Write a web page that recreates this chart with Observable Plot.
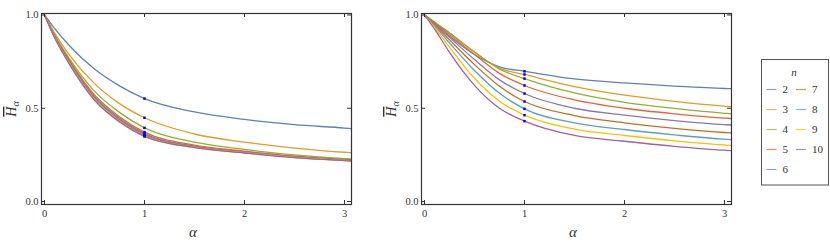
<!DOCTYPE html>
<html><head><meta charset="utf-8">
<script src="https://cdn.jsdelivr.net/npm/d3@7"></script>
<script src="https://cdn.jsdelivr.net/npm/@observablehq/plot@0.6"></script>
<style>
body{margin:0;background:#fff;}
#wrap{position:relative;width:830px;height:245px;overflow:hidden;background:#fff;}
#wrap > svg{position:absolute;top:0;}
</style></head><body><div id="wrap"></div>
<script>
// sample points on the alpha axis
const alphas = [0, 0.1, 0.25, 0.5, 0.75, 1, 1.5, 2, 2.5, 3, 3.07];
const nValues = [2, 3, 4, 5, 6, 7, 8, 9, 10];
const colors = ["#5E81B5", "#E19C24", "#8FB032", "#EB6235", "#8778B3", "#C56E1A", "#5D9EC7", "#FFBF00", "#A5609D"];
// left panel: one row per n (2..10), values at alphas
const leftCurves = [
  [1, 0.928, 0.835, 0.710, 0.620, 0.552, 0.480, 0.440, 0.412, 0.394, 0.391],
  [1, 0.905, 0.785, 0.632, 0.525, 0.449, 0.362, 0.318, 0.286, 0.264, 0.262],
  [1, 0.895, 0.765, 0.592, 0.478, 0.395, 0.318, 0.280, 0.250, 0.230, 0.228],
  [1, 0.890, 0.755, 0.572, 0.455, 0.372, 0.302, 0.270, 0.243, 0.225, 0.223],
  [1, 0.887, 0.750, 0.563, 0.446, 0.364, 0.297, 0.266, 0.240, 0.223, 0.221],
  [1, 0.885, 0.745, 0.556, 0.439, 0.358, 0.294, 0.264, 0.238, 0.222, 0.220],
  [1, 0.883, 0.741, 0.551, 0.434, 0.354, 0.292, 0.262, 0.237, 0.221, 0.219],
  [1, 0.881, 0.738, 0.547, 0.430, 0.351, 0.290, 0.261, 0.236, 0.220, 0.218],
  [1, 0.879, 0.735, 0.543, 0.427, 0.349, 0.289, 0.260, 0.235, 0.219, 0.217]
];
// right panel
const rightCurves = [
  [1, 0.953, 0.886, 0.788, 0.722, 0.698, 0.657, 0.636, 0.619, 0.606, 0.605],
  [1, 0.960, 0.903, 0.800, 0.715, 0.681, 0.616, 0.570, 0.537, 0.511, 0.508],
  [1, 0.962, 0.905, 0.802, 0.710, 0.659, 0.582, 0.532, 0.499, 0.473, 0.470],
  [1, 0.958, 0.895, 0.788, 0.687, 0.622, 0.545, 0.500, 0.470, 0.447, 0.445],
  [1, 0.953, 0.880, 0.761, 0.652, 0.579, 0.500, 0.463, 0.434, 0.412, 0.410],
  [1, 0.948, 0.867, 0.734, 0.618, 0.536, 0.461, 0.422, 0.392, 0.370, 0.368],
  [1, 0.942, 0.850, 0.702, 0.580, 0.497, 0.422, 0.386, 0.357, 0.334, 0.332],
  [1, 0.935, 0.828, 0.661, 0.538, 0.463, 0.388, 0.354, 0.325, 0.303, 0.301],
  [1, 0.925, 0.800, 0.623, 0.500, 0.431, 0.354, 0.323, 0.296, 0.275, 0.273]
];
const xTicks = [0, 1, 2, 3];
const xTickLabels = ["0", "1", "2", "3"];
const yTicks = [0, 0.5, 1];
const yTickLabels = ["0.0", "0.5", "1.0"];
const markedAlpha = 1;

const W = 380, H = 245, mL = 41, mR = 29, mT = 13, mB = 41;
const frameW = W - mL - mR, frameH = H - mT - mB;
const serif = "'Liberation Serif', 'DejaVu Serif', serif";
const ink = "#333";

function panel(curves) {
  const rows = [];
  curves.forEach((vals, i) => vals.forEach((h, j) => rows.push({n: nValues[i], alpha: alphas[j], h})));
  const svg = Plot.plot({
    width: W, height: H, marginLeft: mL, marginRight: mR, marginTop: mT, marginBottom: mB,
    style: {fontFamily: serif, fontSize: "10.5px", color: ink, background: "transparent"},
    x: {domain: [-0.03, 3.07]},
    y: {domain: [-0.016, 1.008]},
    color: {type: "ordinal", domain: nValues, range: colors},
    marks: [
      Plot.line(rows, {x: "alpha", y: "h", z: "n", stroke: "n", strokeWidth: 1.3, curve: "monotone-x", clip: true}),
      Plot.dot(rows.filter(d => d.alpha === markedAlpha), {x: "alpha", y: "h", r: 1.4, symbol: "square", fill: "#0000ff", stroke: "none"}),
      Plot.frame({stroke: ink, strokeWidth: 1.2}),
      Plot.ruleX(xTicks, {x: d => d, insetTop: frameH - 4, stroke: ink}),
      Plot.ruleX(xTicks, {x: d => d, insetBottom: frameH - 4, stroke: ink}),
      Plot.ruleY(yTicks, {y: d => d, insetRight: frameW - 4, stroke: ink}),
      Plot.ruleY(yTicks, {y: d => d, insetLeft: frameW - 4, stroke: ink}),
      Plot.axisX(xTicks, {tickSize: 0, tickPadding: 5, label: null, tickFormat: d => xTickLabels[xTicks.indexOf(d)]}),
      Plot.axisY(yTicks, {tickSize: 0, tickPadding: 3, label: null, tickFormat: d => yTickLabels[yTicks.indexOf(d)]})
    ]
  });
  const s = d3.select(svg);
  s.append("text").attr("x", mL + frameW / 2 - 3).attr("y", 237)
    .attr("text-anchor", "middle").attr("font-family", serif).attr("font-size", 15)
    .attr("font-style", "italic").attr("fill", ink).text("α");
  const yl = s.append("text").attr("transform", "translate(16,109) rotate(-90)")
    .attr("text-anchor", "middle").attr("font-family", serif).attr("font-size", 14).attr("fill", ink);
  yl.append("tspan").attr("font-style", "italic").attr("text-decoration", "overline").text("H");
  yl.append("tspan").attr("font-style", "italic").attr("font-size", 10).attr("dy", 3).text("α");
  return svg;
}

const wrap = document.getElementById("wrap");
const left = panel(leftCurves);
left.style.left = "0px";
wrap.appendChild(left);
const right = panel(rightCurves);
right.style.left = "380px";
wrap.appendChild(right);

// legend
const leg = d3.create("svg").attr("width", 80).attr("height", H).style("left", "750px");
leg.append("rect").attr("x", 11.5).attr("y", 59.5).attr("width", 67).attr("height", 125.5)
  .attr("fill", "#fff").attr("stroke", "#555").attr("stroke-width", 1);
leg.append("text").attr("x", 44).attr("y", 76).attr("text-anchor", "middle")
  .attr("font-family", serif).attr("font-size", 11).attr("font-style", "italic").attr("fill", ink).text("n");
nValues.forEach((n, i) => {
  const col = i < 5 ? 0 : 1, row = i < 5 ? i : i - 5;
  const x0 = col === 0 ? 16.5 : 46, y = 89.5 + 20 * row;
  leg.append("line").attr("x1", x0).attr("x2", x0 + 10).attr("y1", y).attr("y2", y)
    .attr("stroke", colors[i]).attr("stroke-width", 1.2).attr("opacity", 0.75);
  leg.append("text").attr("x", x0 + 16).attr("y", y + 3.5).attr("font-family", serif)
    .attr("font-size", 11).attr("fill", ink).text(String(n));
});
wrap.appendChild(leg.node());
</script></body></html>
